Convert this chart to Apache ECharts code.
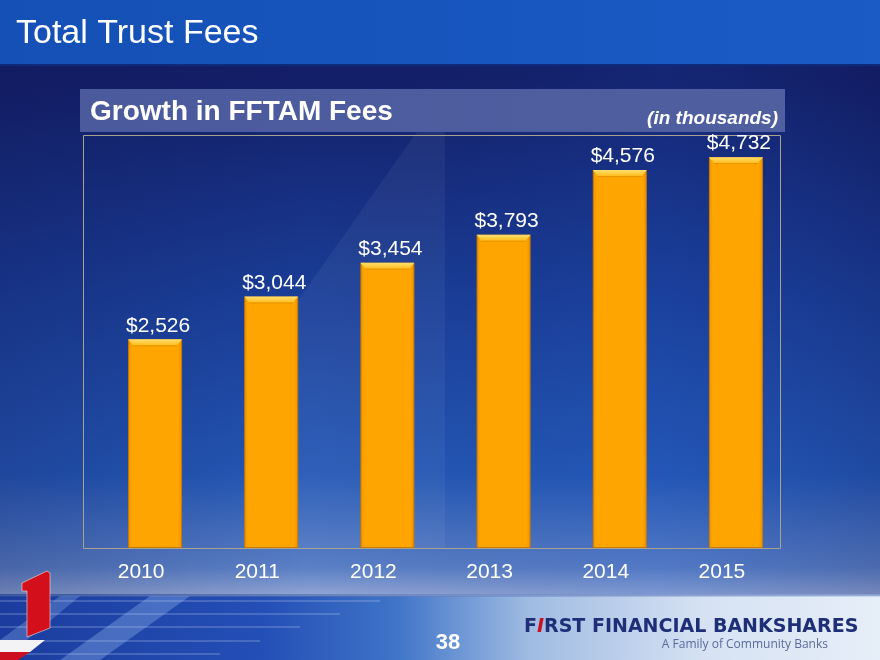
<!DOCTYPE html>
<html>
<head>
<meta charset="utf-8">
<script src="https://cdn.jsdelivr.net/npm/echarts@6/dist/echarts.min.js"></script>
<style>
html,body{margin:0;padding:0;background:#1a3f98;}
#chart{width:880px;height:660px;}
</style>
</head>
<body>
<div id="chart"></div>
<script>
// ---- data ----
const categories = ['2010', '2011', '2012', '2013', '2014', '2015'];
const fees = [2526, 3044, 3454, 3793, 4576, 4732];
const valueLabels = ['$2,526', '$3,044', '$3,454', '$3,793', '$4,576', '$4,732'];
const slideTitle = 'Total Trust Fees';
const chartTitle = 'Growth in FFTAM Fees';
const unitNote = '(in thousands)';
const pageNumber = '38';
const companyName = ['F', 'I', 'RST FINANCIAL BANKSHARES'];
const tagline = 'A Family of Community Banks';

const chart = echarts.init(document.getElementById('chart'), null, {renderer: 'canvas'});
const BAR_W = 54;

function lg(x, y, x2, y2, stops) {
  return new echarts.graphic.LinearGradient(x, y, x2, y2, stops.map(s => ({offset: s[0], color: s[1]})));
}

const streaks = [];
[601, 614, 627, 641, 654].forEach((y, i) => {
  streaks.push({type: 'line', silent: true, z: -5,
    shape: {x1: 0, y1: y, x2: 380 - i * 40, y2: y},
    style: {stroke: 'rgba(200,215,245,0.45)', lineWidth: 1}});
});

const graphics = [
  // main background
  {type: 'rect', silent: true, z: -20, shape: {x: 0, y: 0, width: 880, height: 660},
   style: {fill: lg(0, 0, 0, 1, [[0, '#121d64'], [0.12, '#131f68'], [0.45, '#1a3e98'], [0.72, '#2458b6'], [0.86, '#5b80c6'], [0.9, '#8ea4d4'], [1, '#9db3dc']])}},
  // side darkening
  {type: 'rect', silent: true, z: -19, shape: {x: 0, y: 65, width: 880, height: 530},
   style: {fill: lg(0, 0, 1, 0, [[0, 'rgba(15,20,80,0.25)'], [0.35, 'rgba(15,20,80,0)'], [0.75, 'rgba(30,80,190,0.15)'], [1, 'rgba(15,20,80,0.2)']])}},
  // watermark "1"
  {type: 'polygon', silent: true, z: -18, shape: {points: [[270, 340], [445, 92], [445, 548], [270, 548]]},
   style: {fill: 'rgba(255,255,255,0.05)'}},
  // top title band
  {type: 'rect', silent: true, z: -17, shape: {x: 0, y: 0, width: 880, height: 65},
   style: {fill: lg(0, 0, 1, 0, [[0, '#1450b5'], [1, '#1a5bc6']])}},
  {type: 'rect', silent: true, z: -16, shape: {x: 0, y: 64, width: 880, height: 2},
   style: {fill: '#0f2a7a'}},
  // bottom strip
  {type: 'rect', silent: true, z: -10, shape: {x: 0, y: 596, width: 880, height: 64},
   style: {fill: lg(0, 0, 1, 0, [[0, '#1b3c9e'], [0.3, '#244fb6'], [0.45, '#3f74c8'], [0.6, '#9fbbe2'], [0.8, '#d6e2f3'], [1, '#e6eef8']])}},
  {type: 'rect', silent: true, z: -9, shape: {x: 0, y: 594, width: 880, height: 3},
   style: {fill: lg(0, 0, 1, 0, [[0, 'rgba(40,70,150,0.8)'], [1, 'rgba(160,185,225,0.4)']])}},
  {type: 'polygon', silent: true, z: -6, shape: {points: [[60, 660], [150, 596], [190, 596], [100, 660]]},
   style: {fill: 'rgba(150,185,240,0.35)'}},
  {type: 'polygon', silent: true, z: -6, shape: {points: [[0, 640], [60, 596], [80, 596], [15, 650]]},
   style: {fill: 'rgba(150,185,240,0.3)'}},
  ...streaks,
  // red/white corner
  {type: 'polygon', silent: true, z: -4, shape: {points: [[0, 640], [45, 640], [30, 652], [0, 652]]},
   style: {fill: '#f3f3f6'}},
  {type: 'polygon', silent: true, z: -4, shape: {points: [[0, 652], [30, 652], [18, 660], [0, 660]]},
   style: {fill: '#cc1020'}},
  // red "1"
  {type: 'polygon', silent: true, z: -3, shape: {points: [[22, 583], [47, 571], [50, 573], [50, 628], [27, 637], [27, 591], [22, 591]]},
   style: {fill: '#d40f1c', stroke: 'rgba(255,255,255,0.5)', lineWidth: 1}},
  // header band
  {type: 'rect', silent: true, z: -2, shape: {x: 80, y: 89, width: 705, height: 43},
   style: {fill: lg(0, 0, 1, 0, [[0, '#4b5a9c'], [1, '#505fa0']])}},
  // plot box
  {type: 'rect', silent: true, z: -1, shape: {x: 83.5, y: 135.5, width: 697, height: 413},
   style: {fill: 'none', stroke: '#a9a28e', lineWidth: 1}},
  // texts
  {type: 'text', silent: true, z: 10, x: 16, y: 34,
   style: {text: slideTitle, fill: '#ffffff', font: '34px "Liberation Sans", Arial, sans-serif', textVerticalAlign: 'middle'}},
  {type: 'text', silent: true, z: 10, x: 90, y: 112,
   style: {text: chartTitle, fill: '#ffffff', font: 'bold 28px "Liberation Sans", Arial, sans-serif', textVerticalAlign: 'middle'}},
  {type: 'text', silent: true, z: 10, x: 778, y: 119,
   style: {text: unitNote, fill: '#ffffff', font: 'italic bold 19px "Liberation Sans", Arial, sans-serif', textAlign: 'right', textVerticalAlign: 'middle'}},
  {type: 'text', silent: true, z: 10, x: 448, y: 643,
   style: {text: pageNumber, fill: '#ffffff', font: 'bold 22px "Liberation Sans", Arial, sans-serif', textAlign: 'center', textVerticalAlign: 'middle'}},
  {type: 'text', silent: true, z: 10, x: 524, y: 627,
   style: {text: '{a|' + companyName[0] + '}{r|' + companyName[1] + '}{a|' + companyName[2] + '}',
     textVerticalAlign: 'middle',
     rich: {
       a: {fill: '#1e2f78', font: 'bold 19px "DejaVu Sans", sans-serif'},
       r: {fill: '#cc1020', font: 'italic bold 19px "DejaVu Sans", sans-serif'}
     }}},
  {type: 'text', silent: true, z: 10, x: 828, y: 645,
   style: {text: tagline, fill: '#5a6a9c', font: '12px "Open Sans", sans-serif', textAlign: 'right', textVerticalAlign: 'middle'}}
];

const option = {
  backgroundColor: 'transparent',
  animation: false,
  graphic: graphics,
  grid: {left: 97, right: 86, top: 135, bottom: 112},
  xAxis: {
    type: 'category',
    data: categories,
    axisLine: {show: false},
    axisTick: {show: false},
    axisLabel: {
      color: '#ffffff',
      fontSize: 21,
      fontFamily: '"Liberation Sans", Arial, sans-serif',
      margin: 14,
      padding: [0, 28, 0, 0]
    }
  },
  yAxis: {
    type: 'value', min: 0, max: 5000, show: false,
    splitLine: {show: false}
  },
  series: [
    {
      type: 'bar',
      data: fees,
      barWidth: BAR_W,
      itemStyle: {
        color: lg(0, 0, 1, 0, [[0, '#f09600'], [0.08, '#ffa502'], [0.92, '#ffa502'], [1, '#ec9200']]),
        borderColor: '#c97a00',
        borderWidth: 1
      },
      label: {
        show: true,
        position: 'top',
        distance: 3,
        offset: [3, 0],
        color: '#ffffff',
        fontSize: 21,
        fontFamily: '"Liberation Sans", Arial, sans-serif',
        formatter: p => valueLabels[p.dataIndex]
      },
      z: 2
    },
    {
      type: 'custom',
      silent: true,
      z: 3,
      data: fees.map((v, i) => [i, v]),
      encode: {x: 0, y: 1},
      renderItem: function (params, api) {
        const top = api.coord([api.value(0), api.value(1)]);
        const x0 = top[0] - BAR_W / 2;
        const y0 = top[1];
        return {
          type: 'group',
          children: [
            {type: 'polygon',
             shape: {points: [[x0, y0], [x0 + BAR_W, y0], [x0 + BAR_W - 5, y0 + 6], [x0 + 5, y0 + 6]]},
             style: {fill: lg(0, 0, 0, 1, [[0, '#ffe070'], [1, '#ffbc1c']])}},
            {type: 'line', shape: {x1: x0 + 5, y1: y0 + 6.5, x2: x0 + BAR_W - 5, y2: y0 + 6.5},
             style: {stroke: '#e69400', lineWidth: 1}}
          ]
        };
      }
    }
  ]
};
chart.setOption(option);
</script>
</body>
</html>
